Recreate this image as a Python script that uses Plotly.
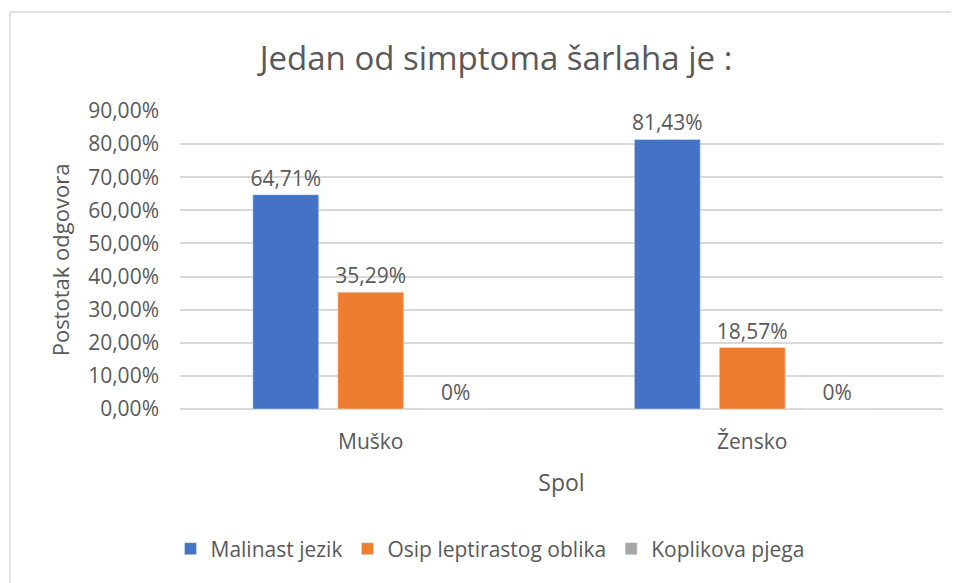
import plotly.graph_objects as go

categories = ["Muško", "Žensko"]
series_names = ["Malinast jezik", "Osip leptirastog oblika", "Koplikova pjega"]
malinast = [64.71, 81.43]
osip = [35.29, 18.57]
koplik = [0, 0]
labels_malinast = ["64,71%", "81,43%"]
labels_osip = ["35,29%", "18,57%"]
labels_koplik = ["0%", "0%"]
tick_vals = [0, 10, 20, 30, 40, 50, 60, 70, 80, 90]
tick_text = ["0,00%", "10,00%", "20,00%", "30,00%", "40,00%", "50,00%",
             "60,00%", "70,00%", "80,00%", "90,00%"]
colors = ["#4472C4", "#ED7D31", "#A5A5A5"]

FONT = "Open Sans, Lato, sans-serif"
TXT = "#595959"

fig = go.Figure()
for name, vals, labs, col in zip(series_names, [malinast, osip, koplik],
                                 [labels_malinast, labels_osip, labels_koplik], colors):
    fig.add_trace(go.Bar(
        x=categories, y=vals, name=name, marker_color=col,
        text=labs, textposition="outside", cliponaxis=False,
        constraintext="none",
        textfont=dict(size=21, color=TXT, family=FONT),
    ))

# page has an 8px body margin; figure coords = page coords - 8
OFF = 8
W, H = 959 - OFF, 583 - OFF
L, R, T, B = 180 - OFF, 16, 111 - OFF, 174
pw, ph = W - L - R, H - T - B

def px_x(page_x):
    return (page_x - OFF - L) / pw

def px_y(page_y):
    return (H - B - (page_y - OFF)) / ph

fig.update_layout(
    width=W, height=H,
    margin=dict(l=L, r=R, t=T, b=B, autoexpand=False),
    paper_bgcolor="white", plot_bgcolor="white",
    font=dict(family=FONT, color=TXT),
    title=dict(text="Jedan od simptoma šarlaha je :", x=(496 - OFF) / W, xref="container",
               xanchor="center", y=1 - (58 - OFF) / H, yref="container", yanchor="middle",
               font=dict(size=33, color=TXT, family=FONT)),
    barmode="group", bargap=0.332, bargroupgap=0.224,
    showlegend=True,
    legend=dict(orientation="h", x=px_x(490), xanchor="center",
                y=px_y(549), yanchor="middle",
                font=dict(size=21, color=TXT, family=FONT),
                itemwidth=30, traceorder="normal"),
    xaxis=dict(title=dict(text="Spol", font=dict(size=23, color=TXT), standoff=20),
               tickfont=dict(size=21, color=TXT), showgrid=False,
               showline=False, ticks="", ticklabelstandoff=18),
    yaxis=dict(title=dict(text="Postotak odgovora", font=dict(size=22, color=TXT), standoff=12),
               range=[0, 90], tickvals=tick_vals, ticktext=tick_text,
               tickfont=dict(size=21, color=TXT), gridcolor="#D9D9D9",
               gridwidth=1.5, zeroline=True, zerolinecolor="#D9D9D9",
               zerolinewidth=1.5, showline=False, ticks="", ticklabelstandoff=20),
    shapes=[
        dict(type="line", xref="paper", yref="paper", x0=px_x(10), x1=px_x(970),
             y0=px_y(12), y1=px_y(12), line=dict(color="#D9D9D9", width=1.5)),
        dict(type="line", xref="paper", yref="paper", x0=px_x(10), x1=px_x(10),
             y0=px_y(12), y1=px_y(600), line=dict(color="#D9D9D9", width=1.5)),
    ],
)

fig.write_html("out.html")
